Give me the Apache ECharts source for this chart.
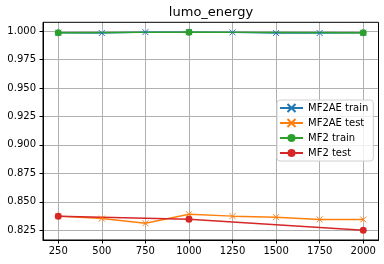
<!DOCTYPE html>
<html><head><meta charset="utf-8">
<script src="https://cdn.jsdelivr.net/npm/echarts@6/dist/echarts.min.js"></script>
<style>html,body{margin:0;padding:0;background:#fff}#c{width:384px;height:264px}</style>
</head><body><div id="c"></div>
<script>
const xs = [250, 500, 750, 1000, 1250, 1500, 1750, 2000];
const mf2aeTrain = [0.9985, 0.9982, 0.9990, 0.9990, 0.9988, 0.9982, 0.9982, 0.9985];
const mf2aeTest = [0.8374, 0.8353, 0.8312, 0.8391, 0.8374, 0.8365, 0.8345, 0.8345];
const mf2Xs = [250, 1000, 2000];
const mf2Train = [0.9985, 0.9990, 0.9985];
const mf2Test = [0.8374, 0.8347, 0.8250];
const xTicks = [250, 500, 750, 1000, 1250, 1500, 1750, 2000];
const yTicks = [0.825, 0.850, 0.875, 0.900, 0.925, 0.950, 0.975, 1.000];

const pairs = (a, b) => a.map((v, i) => [v, b[i]]);
const xSym = 'path://M0,0L10,10M10,0L0,10';
const font = 'DejaVu Sans';
function mk(name, data, color, cross) {
  return {
    name, type: 'line', data, symbol: cross ? xSym : 'circle',
    symbolSize: cross ? 6 : 7,
    lineStyle: { color, width: 1.4 },
    itemStyle: cross ? { color: 'rgba(0,0,0,0)', borderColor: color, borderWidth: 1 } : { color, borderWidth: 0 },
    color, animation: false
  };
}
const chart = echarts.init(document.getElementById('c'));
chart.setOption({
  animation: false,
  grid: { left: 43, right: 5.5, top: 22.3, bottom: 24 },
  graphic: [
    { type: 'text', style: { text: 'lumo_energy', x: 211, y: 13, textAlign: 'center', textVerticalAlign: 'middle', font: '13px ' + font, fill: '#000' } },
    { type: 'rect', shape: { x: 43, y: 22.3, width: 335.5, height: 217.7 }, style: { fill: 'none', stroke: '#000', lineWidth: 1 }, silent: true, z: 100 }
  ],
  legend: {
    left: 277, top: 100, orient: 'vertical', padding: [3, 5, 3, 2],
    itemWidth: 23, itemHeight: 10, itemGap: 5,
    backgroundColor: 'rgba(255,255,255,0.8)', borderColor: '#d0d0d0', borderWidth: 1, borderRadius: 3,
    textStyle: { fontSize: 10, fontFamily: font, color: '#000' }
  },
  xAxis: {
    type: 'value', min: 162.5, max: 2087.5,
    axisLine: { show: true, onZero: false, lineStyle: { color: '#000', width: 1 } },
    axisTick: { show: true, length: 3.5, customValues: xTicks, lineStyle: { color: '#000' } },
    axisLabel: { customValues: xTicks, fontSize: 10, fontFamily: font, color: '#000', margin: 6, formatter: v => String(v) },
    splitLine: { show: true, lineStyle: { color: '#b0b0b0', width: 1 } }
  },
  yAxis: {
    type: 'value', min: 0.81648, max: 1.00764,
    axisLine: { show: true, onZero: false, lineStyle: { color: '#000', width: 1 } },
    axisTick: { show: true, length: 3.5, customValues: yTicks, lineStyle: { color: '#000' } },
    axisLabel: { customValues: yTicks, fontSize: 10, fontFamily: font, color: '#000', margin: 7, formatter: v => v.toFixed(3) },
    splitLine: { show: true, lineStyle: { color: '#b0b0b0', width: 1 } }
  },
  series: [
    mk('MF2AE train', pairs(xs, mf2aeTrain), '#1f77b4', true),
    mk('MF2AE test', pairs(xs, mf2aeTest), '#ff7f0e', true),
    mk('MF2 train', pairs(mf2Xs, mf2Train), '#2ca02c', false),
    mk('MF2 test', pairs(mf2Xs, mf2Test), '#d62728', false)
  ]
});
</script></body></html>
